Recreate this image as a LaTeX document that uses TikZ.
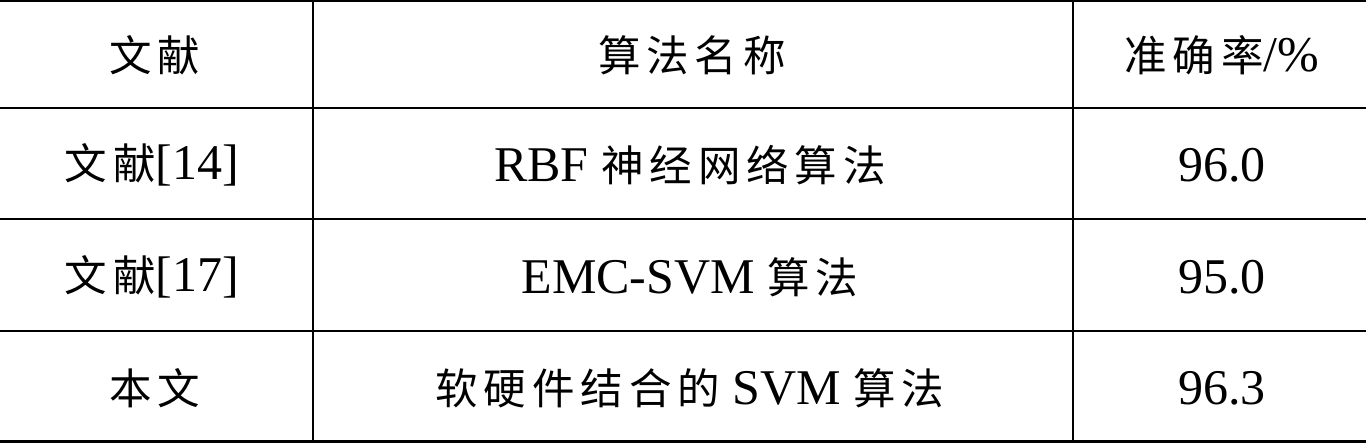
\documentclass[tikz,border=0pt]{standalone}
\usepackage{fontspec}
\setmainfont{Liberation Serif}
\newfontfamily\cjk{Noto Sans CJK SC}[Scale=0.85,LetterSpace=14,FakeBold=0]
\begin{document}
\begin{tikzpicture}[x=1pt,y=-1pt,cell/.style={inner sep=0pt,anchor=center,font=\fontsize{50}{54}\selectfont}]
\useasboundingbox (0,0) rectangle (1366,444);
\draw[line width=1.5pt] (0,1) -- (1366,1);
\draw[line width=1.2pt] (0,108) -- (1366,108);
\draw[line width=1.2pt] (0,219) -- (1366,219);
\draw[line width=1.2pt] (0,331) -- (1366,331);
\draw[line width=3pt] (0,441) -- (1366,441);
\draw[line width=1.2pt] (313,1) -- (313,441);
\draw[line width=1.2pt] (1073,1) -- (1073,441);
\node[cell] (h1) at (155,55) {\cjk 文献\hspace{-7pt}};
\node[cell] (h2) at (692,55) {\cjk 算法名称\hspace{-7pt}};
\node[cell] (h3) at (1222,55) {{\cjk 准确率}/\%};
\node[cell] (a1) at (152,165) {{\cjk 文献}[14]};
\node[cell] (a2) at (690,165) {RBF {\cjk 神经网络算法\hspace{-7pt}}};
\node[cell] (a3) at (1222,165) {96.0};
\node[cell] (b1) at (152,277) {{\cjk 文献}[17]};
\node[cell] (b2) at (690,277) {EMC-SVM {\cjk 算法\hspace{-7pt}}};
\node[cell] (b3) at (1222,277) {95.0};
\node[cell] (c1) at (155,388) {\cjk 本文\hspace{-7pt}};
\node[cell] (c2) at (690,388) {{\cjk 软硬件结合的} SVM {\cjk 算法\hspace{-7pt}}};
\node[cell] (c3) at (1222,388) {96.3};
\end{tikzpicture}
\end{document}
